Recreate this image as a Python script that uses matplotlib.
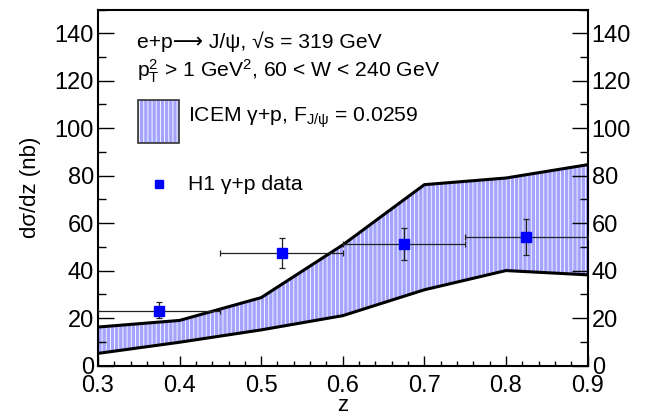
import numpy as np
import matplotlib
matplotlib.use('Agg')
import matplotlib.pyplot as plt
from matplotlib.patches import Rectangle

plt.rcParams['font.family'] = ['Liberation Sans', 'DejaVu Sans']
plt.rcParams['mathtext.fontset'] = 'custom'
plt.rcParams['mathtext.rm'] = 'Liberation Sans'
plt.rcParams['mathtext.it'] = 'Liberation Sans'
plt.rcParams['hatch.linewidth'] = 0.6

# ICEM band (edges of the theory uncertainty)
z_band = [0.3, 0.4, 0.5, 0.6, 0.7, 0.8, 0.9]
band_hi = [16.2, 19.0, 28.6, 50.8, 76.2, 79.0, 84.6]
band_lo = [5.1, 9.8, 15.0, 21.0, 31.9, 40.0, 38.2]

# H1 data
z_data = [0.375, 0.525, 0.675, 0.825]
z_err = [0.075, 0.075, 0.075, 0.075]
y_data = [23.1, 47.5, 51.1, 54.1]
y_err_hi = [3.6, 6.3, 6.8, 7.5]
y_err_lo = [3.2, 6.4, 6.6, 7.6]

band_face = '#a4a4fc'

fig = plt.figure(figsize=(6.45, 4.17), dpi=100)
ax = fig.add_axes([0.1519, 0.1235, 0.759, 0.8537])

ax.fill_between(z_band, band_lo, band_hi, facecolor=band_face, edgecolor='white',
                hatch='||||', linewidth=0, zorder=1)
ax.plot(z_band, band_hi, color='black', lw=2.2, zorder=2)
ax.plot(z_band, band_lo, color='black', lw=2.2, zorder=2)

ax.errorbar(z_data, y_data, xerr=z_err, yerr=[y_err_lo, y_err_hi], fmt='s', color='blue',
            ms=6.5, ecolor='#222222', elinewidth=0.9, capsize=2, capthick=0.9, zorder=3)

ax.set_xlim(0.3, 0.9)
ax.set_ylim(0, 150)
ax.set_xticks(np.arange(0.3, 0.91, 0.1))
ax.set_xticks(np.arange(0.3, 0.91, 0.02), minor=True)
ax.set_yticks(np.arange(0, 141, 20))
ax.set_yticks(np.arange(0, 151, 10), minor=True)
ax.set_xticklabels(['0.3', '0.4', '0.5', '0.6', '0.7', '0.8', '0.9'])

ax.tick_params(axis='x', which='major', direction='in', length=7, width=1, labelsize=17, pad=6.5, top=False)
ax.tick_params(axis='x', which='minor', direction='in', length=3.6, width=1, top=False)
ax.tick_params(axis='y', which='major', direction='in', length=11.5, width=1, labelsize=17, pad=3,
               left=True, right=True, labelleft=True, labelright=True)
ax.tick_params(axis='y', which='minor', direction='in', length=5.8, width=1, left=True, right=True)
for s in ax.spines.values():
    s.set_linewidth(1.5)

ax.set_ylabel('dσ/dz (nb)', fontsize=16, labelpad=10)
ax.set_xlabel('z', fontsize=16)
ax.xaxis.set_label_coords(0.5, -0.083)

# annotation text
ax.text(0.0797, 0.892, 'e+p⟶ J/ψ, √s = 319 GeV', transform=ax.transAxes, fontsize=15.2,
        va='baseline')
ax.text(0.0797, 0.810, r'$\mathregular{p_T^2}$ > 1 GeV$^\mathregular{2}$, 60 < W < 240 GeV',
        transform=ax.transAxes, fontsize=15.2, va='baseline')

# legend drawn by hand
ax.add_patch(Rectangle((0.0817, 0.625), 0.0838, 0.1208, transform=ax.transAxes,
                       facecolor=band_face, edgecolor='white', hatch='||||', lw=0, zorder=4))
ax.add_patch(Rectangle((0.0817, 0.625), 0.0838, 0.1208, transform=ax.transAxes,
                       facecolor='none', edgecolor='#333333', lw=1.2, zorder=5))
ax.text(0.1839, 0.685, r'ICEM γ+p, F$_\mathregular{J/ψ}$ = 0.0259', transform=ax.transAxes,
        fontsize=15.2, va='baseline')
ax.plot([0.1246], [0.51], 's', color='blue', ms=6, transform=ax.transAxes)
ax.text(0.1839, 0.493, 'H1 γ+p data', transform=ax.transAxes, fontsize=15.2, va='baseline')

fig.savefig('out.png', dpi=100)
